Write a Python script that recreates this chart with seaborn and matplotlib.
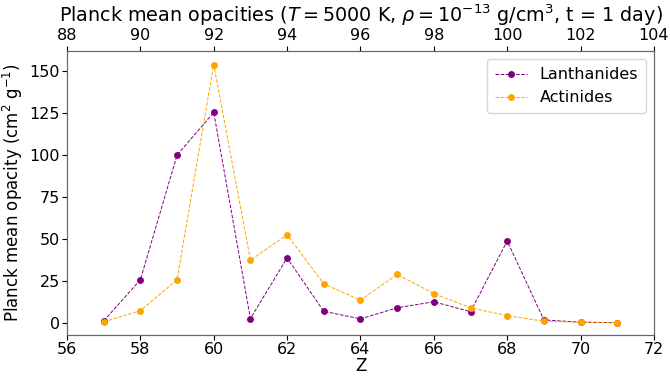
import matplotlib
matplotlib.use("Agg")
import matplotlib.pyplot as plt
import seaborn as sns
import pandas as pd

Z_lan = [57, 58, 59, 60, 61, 62, 63, 64, 65, 66, 67, 68, 69, 70, 71]
Z_act = [89, 90, 91, 92, 93, 94, 95, 96, 97, 98, 99, 100, 101, 102, 103]
kappa_lan = [1.2, 25.7, 100.0, 125.5, 2.6, 38.7, 6.9, 2.4, 9.0, 12.6, 6.7, 48.8, 1.8, 0.4, 0.1]
kappa_act = [0.6, 7.3, 25.7, 154.0, 37.4, 52.5, 23.3, 13.5, 28.9, 17.5, 9.0, 4.3, 1.0, 0.4, 0.2]

sns.set_style("ticks")
plt.rcParams['font.family'] = ['DejaVu Sans']
plt.rcParams['text.color'] = 'black'
plt.rcParams['axes.labelcolor'] = 'black'
plt.rcParams['xtick.color'] = 'black'
plt.rcParams['ytick.color'] = 'black'

fig, ax = plt.subplots(figsize=(6.7, 3.76), dpi=100)
df_l = pd.DataFrame({"Z": Z_lan, "k": kappa_lan})
df_a = pd.DataFrame({"Z": Z_lan, "k": kappa_act})
sns.lineplot(data=df_l, x="Z", y="k", ax=ax, color="purple", marker="o", markersize=5,
             markeredgewidth=0, linestyle="--", linewidth=0.7, label="Lanthanides")
sns.lineplot(data=df_a, x="Z", y="k", ax=ax, color="orange", marker="o", markersize=5,
             markeredgewidth=0, linestyle="--", linewidth=0.7, label="Actinides")

ax.set_xlim(56, 72)
ax.set_ylim(-7, 162)
ax.set_xticks(range(56, 73, 2))
ax.set_yticks([0, 25, 50, 75, 100, 125, 150])
ax.tick_params(labelsize=11.5, length=3.5, pad=1.5)
ax.set_xlabel("Z", fontsize=12, labelpad=0)
ax.set_ylabel(r"Planck mean opacity (cm$^2$ g$^{-1}$)", fontsize=12, labelpad=3)
leg = ax.legend(loc="upper right", fontsize=11.5, frameon=True, handlelength=2.0,
                borderaxespad=0.5, borderpad=0.5)

ax2 = ax.twiny()
ax2.set_xlim(88, 104)
ax2.set_xticks(range(88, 105, 2))
ax2.tick_params(labelsize=11.5, length=3.5, pad=2)
ax2.set_title(r"Planck mean opacities ($T = 5000$ K, $\rho = 10^{-13}$ g/cm$^3$, t = 1 day)",
              fontsize=13.8, pad=3)
for a in (ax, ax2):
    for s in a.spines.values():
        s.set_color("#666666")

fig.subplots_adjust(left=0.1, right=0.976, top=0.864, bottom=0.11)
fig.savefig("out.png", dpi=100)
